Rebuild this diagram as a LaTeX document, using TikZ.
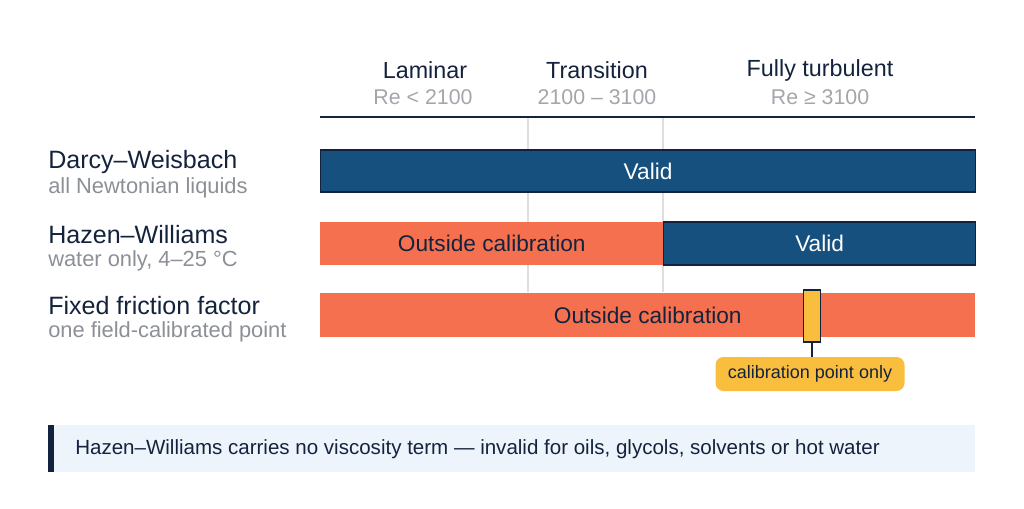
\documentclass[tikz,border=0pt]{standalone}
\usepackage{fontspec}
\setmainfont{Liberation Sans}
\definecolor{navy}{HTML}{14233D}
\definecolor{validblue}{HTML}{15507F}
\definecolor{outorange}{HTML}{F4704E}
\definecolor{calyellow}{HTML}{F9BE3E}
\definecolor{subgray}{HTML}{8C9096}
\definecolor{gridgray}{HTML}{DDDEE0}
\definecolor{notebg}{HTML}{EEF4FB}
\begin{document}
\begin{tikzpicture}[x=0.75pt,y=-0.75pt,
    zonehead/.style={font=\fontsize{17.5}{20}\selectfont, text=navy},
    zonerange/.style={font=\fontsize{16}{18}\selectfont, text=subgray!80},
    modelname/.style={anchor=west, inner sep=0pt, font=\fontsize{18.8}{22}\selectfont, text=navy},
    modelnote/.style={anchor=west, inner sep=0pt, font=\fontsize{16.4}{19}\selectfont, text=subgray},
    validbar/.style={anchor=west, fill=validblue, draw=navy, line width=0.9pt, text=white,
        font=\fontsize{17}{19}\selectfont, inner sep=0pt},
    outbar/.style={anchor=west, fill=outorange, text=navy,
        font=\fontsize{17}{19}\selectfont, inner sep=0pt}]
    \useasboundingbox (0,0) rectangle (1024,508);

    % zone headings
    \node[zonehead] (lam) at (425,70) {Laminar};
    \node[zonerange] (lamre) at (423,97) {Re < 2100};
    \node[zonehead] (tra) at (597,70) {Transition};
    \node[zonerange] (trare) at (597,97) {2100 – 3100};
    \node[zonehead] (tur) at (820,70) {Fully turbulent};
    \node[zonerange] (turre) at (820,97) {Re ≥ 3100};

    % grid and axis
    \draw[gridgray, line width=1pt] (528,118) -- (528,292);
    \draw[gridgray, line width=1pt] (663,118) -- (663,292);
    \draw[navy, line width=2.2pt] (320,117) -- (975,117);

    % model labels
    \node[modelname] (dw) at (48,162) {Darcy–Weisbach};
    \node[modelnote] (dwnote) at (48,188) {all Newtonian liquids};
    \node[modelname] (hw) at (48,235) {Hazen–Williams};
    \node[modelnote] (hwnote) at (48,261) {water only, 4–25 °C};
    \node[modelname] (ff) at (48,306) {Fixed friction factor};
    \node[modelnote] (ffnote) at (48,332) {one field-calibrated point};

    % validity bars
    \node[validbar, minimum width=491.25pt, minimum height=31.5pt] (dwbar) at (320,171) {Valid};
    \node[outbar, minimum width=257.25pt, minimum height=32.25pt] (hwout) at (320,243.5) {Outside calibration};
    \node[validbar, minimum width=234pt, minimum height=32.25pt] (hwvalid) at (663,243.5) {Valid};
    \node[outbar, minimum width=491.25pt, minimum height=33pt] (ffbar) at (320,315) {Outside calibration};

    % calibration point
    \node[fill=calyellow, draw=navy, line width=0.9pt, minimum width=12.75pt, minimum height=39pt,
        inner sep=0pt] (calmark) at (812,316) {};
    \node[fill=calyellow, rounded corners=6pt, minimum width=141.75pt, minimum height=25.5pt,
        inner sep=0pt, text=navy, font=\fontsize{13.5}{16}\selectfont] (calnote) at (810,374)
        {calibration point only};
    \draw[navy, line width=0.9pt] (calmark.south) -- (calmark.south |- calnote.north);

    % note
    \fill[notebg] (48,425) rectangle (975,472);
    \fill[navy] (48,425) rectangle (54,472);
    \node[anchor=west, inner sep=0pt, text=navy, font=\fontsize{15.4}{18}\selectfont] (hwwarn) at (75,449)
        {Hazen–Williams carries no viscosity term — invalid for oils, glycols, solvents or hot water};
\end{tikzpicture}
\end{document}
